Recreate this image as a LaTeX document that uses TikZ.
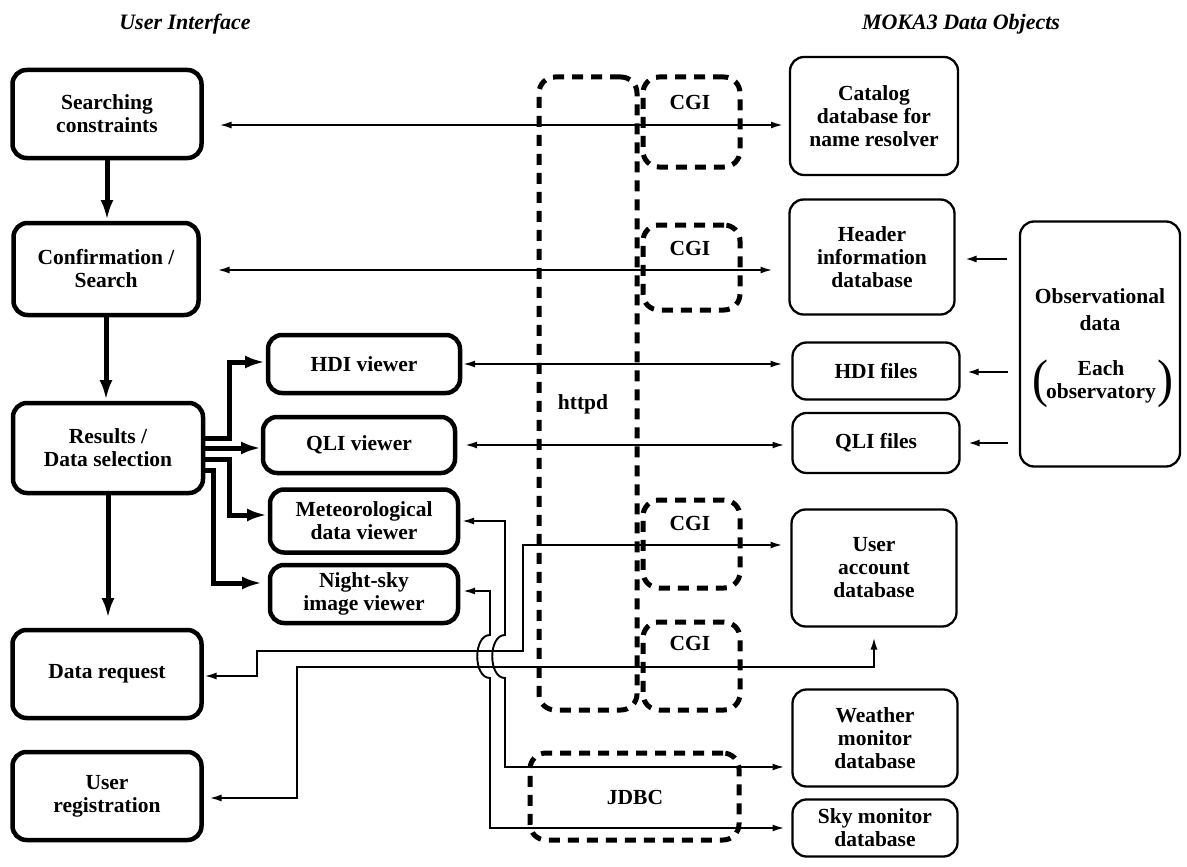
\documentclass[tikz,border=0pt]{standalone}
\usepackage{fontspec}
\setmainfont{Liberation Serif}
\usetikzlibrary{arrows.meta}
\begin{document}
\begin{tikzpicture}[x=1pt,y=-1pt,
  txt/.style={font=\bfseries\fontsize{21.5}{23}\selectfont, align=center},
  ubox/.style={txt, draw, line width=4.5pt, rounded corners=14pt, inner sep=0pt, outer sep=0pt},
  dbox/.style={txt, draw, line width=2.3pt, rounded corners=14pt, inner sep=0pt, outer sep=0pt},
  dashbox/.style={draw, line width=5pt, dash pattern=on 11pt off 8pt, rounded corners=16pt, inner sep=0pt, outer sep=0pt},
  paren/.style={font=\fontsize{48}{48}\selectfont, inner sep=0pt, yscale=1.1},
  thn/.style={line width=1.9pt, >={Latex[length=12pt,width=7pt]}},
  thk/.style={line width=5pt, -{Latex[length=20pt,width=13pt]}},
  ttl/.style={font=\bfseries\itshape\fontsize{22}{24}\selectfont}
]
\useasboundingbox (0,0) rectangle (1187,867);

% titles
\node[ttl] (t1) at (185,24) {User Interface};
\node[ttl] (t2) at (961,24) {MOKA3 Data Objects};

% dashed boxes
\node[dashbox, minimum width=98pt, minimum height=633pt] (httpd) at (588,393.5) {};
\node[dashbox, minimum width=97pt, minimum height=90pt] (cgiA) at (691.5,122) {};
\node[dashbox, minimum width=97pt, minimum height=85pt] (cgiB) at (691.5,267.5) {};
\node[dashbox, minimum width=97pt, minimum height=88pt] (cgiC) at (691.5,544) {};
\node[dashbox, minimum width=97pt, minimum height=88pt] (cgiD) at (691.5,666) {};
\node[dashbox, minimum width=209pt, minimum height=87pt] (jdbc) at (634.5,796.5) {};
\node[txt] (httpdl) at (583,404) {httpd};
\node[txt] (cgiAl) at (690,102) {CGI};
\node[txt] (cgiBl) at (690,248) {CGI};
\node[txt] (cgiCl) at (690,523) {CGI};
\node[txt] (cgiDl) at (690,643) {CGI};
\node[txt] (jdbcl) at (635,797) {JDBC};

% left column
\node[ubox, minimum width=189pt, minimum height=88pt] (search) at (107,114) {Searching\\constraints};
\node[ubox, minimum width=185pt, minimum height=92pt] (confirm) at (106,269) {Confirmation /\\Search};
\node[ubox, minimum width=190pt, minimum height=90pt] (results) at (108,448) {Results /\\Data selection};
\node[ubox, minimum width=189pt, minimum height=88pt] (datareq) at (107,674) {Data request};
\node[ubox, minimum width=189pt, minimum height=88pt] (userreg) at (107,796) {User\\registration};

% viewers
\node[ubox, minimum width=192pt, minimum height=58pt] (hdiv) at (364,364) {HDI viewer};
\node[ubox, minimum width=192pt, minimum height=56pt] (qliv) at (359,445) {QLI viewer};
\node[ubox, minimum width=188pt, minimum height=63pt] (metv) at (364,521) {Meteorological\\data viewer};
\node[ubox, minimum width=188pt, minimum height=58pt] (nightv) at (364,594) {Night-sky\\image viewer};

% right column
\node[dbox, minimum width=168pt, minimum height=118pt] (catalog) at (874,116) {Catalog\\database for\\name resolver};
\node[dbox, minimum width=165pt, minimum height=115pt] (header) at (872,257) {Header\\information\\database};
\node[dbox, minimum width=167pt, minimum height=57pt] (hdif) at (876,371) {HDI files};
\node[dbox, minimum width=167pt, minimum height=60pt] (qlif) at (876,443) {QLI files};
\node[dbox, minimum width=165pt, minimum height=117pt] (useracc) at (874,568) {User\\account\\database};
\node[dbox, minimum width=165pt, minimum height=97pt] (weather) at (875,738) {Weather\\monitor\\database};
\node[dbox, minimum width=165pt, minimum height=57pt] (sky) at (875,828) {Sky monitor\\database};
\node[dbox, minimum width=160pt, minimum height=245pt] (obs) at (1100,344) {};
\node[txt] (obst) at (1100,310) {Observational\\[4pt]data};
\node[txt] (obse) at (1101,382) {Each\\observatory};
\node[paren] (lpar) at (1040,384) {(};
\node[paren] (rpar) at (1165,384) {)};

% thick flow
\draw[thk, shorten >=3pt] (search.south) -- (search.south |- confirm.north);
\draw[thk, shorten >=3pt] (confirm.south) -- (confirm.south |- results.north);
\draw[thk, shorten >=12pt] (results.south) -- (results.south |- datareq.north);
\draw[thk, shorten >=3pt] (results.east |- 0,438) -- (229,438) |- (hdiv.west |- 0,362);
\draw[thk, shorten >=2pt] (results.east |- 0,448) -- (qliv.west |- 0,448);
\draw[thk, shorten >=3pt] (results.east |- 0,459) -- (229,459) |- (metv.west |- 0,515);
\draw[thk, shorten >=8pt] (results.east |- 0,470) -- (213,470) |- (nightv.west |- 0,583);

% thin two-way connectors
\draw[thn, <->, shorten <=18pt, shorten >=7pt] (search.east |- 0,125) -- (catalog.west |- 0,125);
\draw[thn, <->, shorten <=19pt, shorten >=17pt] (confirm.east |- 0,270) -- (header.west |- 0,270);
\draw[thn, <->, shorten <=3pt, shorten >=10pt] (hdiv.east |- 0,364) -- (hdif.west |- 0,364);
\draw[thn, <->, shorten <=10pt, shorten >=8pt] (qliv.east |- 0,445) -- (qlif.west |- 0,445);

% observational data feeds
\draw[thn, ->, line width=2.6pt, shorten <=13pt, shorten >=10pt] (obs.west |- 0,259) -- (header.east |- 0,259);
\draw[thn, ->, line width=2.6pt, shorten <=12pt, shorten >=7pt] (obs.west |- 0,372) -- (hdif.east |- 0,372);
\draw[thn, ->, line width=2.6pt, shorten <=12pt, shorten >=8pt] (obs.west |- 0,443) -- (qlif.east |- 0,443);

% lower connectors
\draw[thn, <->, shorten <=3pt, shorten >=9pt] (datareq.east |- 0,676) -- (257,676) -- (257,651) -- (523,651) |- (useracc.west |- 0,545);
\draw[thn, <->, shorten <=8pt, shorten >=11pt] (userreg.east |- 0,798) -- (297,798) -- (297,667) -| (useracc.south);
\draw[thn, <->, shorten <=4pt, shorten >=8pt] (metv.east) -- (505,521) -- (505,635)
  .. controls (488,635) and (488,678) .. (505,678) |- (weather.west |- 0,767);
\draw[thn, <->, shorten <=5pt, shorten >=8pt] (nightv.east |- 0,591) -- (490,591) -- (490,635)
  .. controls (473,635) and (473,678) .. (490,678) |- (sky.west);
\end{tikzpicture}
\end{document}
